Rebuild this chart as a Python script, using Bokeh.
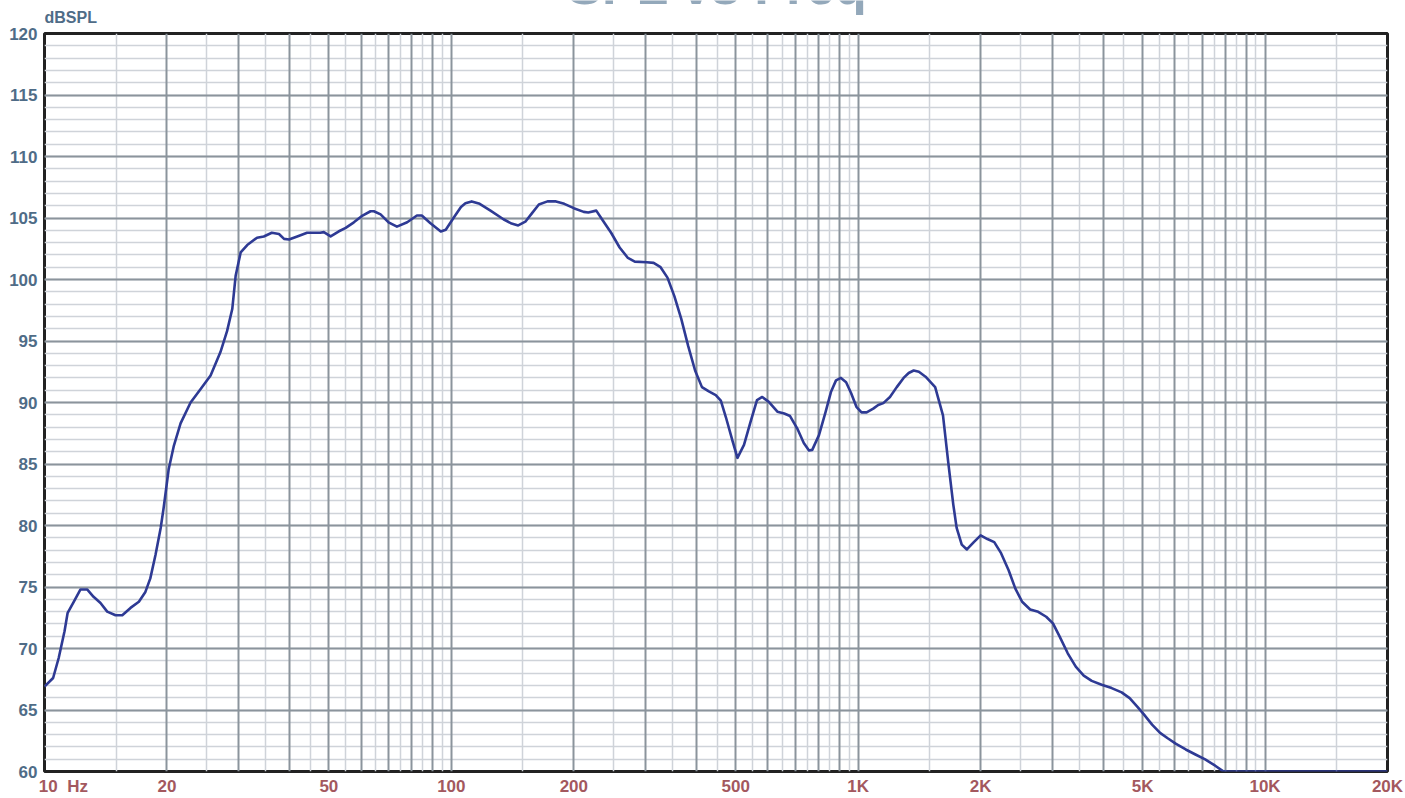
from bokeh.plotting import figure
from bokeh.layouts import column
from bokeh.models import Range1d, FixedTicker, Grid, Label
from bokeh.embed import file_html
from bokeh.resources import INLINE

# ---- data ----
freq = [10.0, 10.5, 10.84, 11.2, 11.4, 11.8, 12.26, 12.73, 13.2, 13.73, 14.26, 14.95,
        15.53, 16.27, 17.06, 17.7, 18.2, 18.74, 19.3, 19.64, 20.2, 20.8, 21.6, 22.86,
        24.2, 25.6, 27.07, 28.1, 28.94, 29.5, 30.35, 31.5, 33.3, 34.6, 36.2, 37.7,
        38.8, 39.9, 41.8, 44.2, 47.6, 48.6, 50.5, 52.8, 55.0, 57.6, 60.5, 63.3, 64.5,
        67.0, 70.1, 73.5, 77.9, 82.3, 84.6, 88.7, 94.2, 96.9, 101.7, 105.6, 108.3,
        112.2, 117.4, 124.8, 134.3, 140.6, 146.0, 152.0, 157.9, 164.1, 172.3, 180.8,
        189.5, 200.0, 211.5, 217.1, 227.1, 235.7, 247.0, 259.2, 271.7, 282.4, 302.2,
        314.2, 326.8, 339.8, 353.3, 367.4, 382.0, 397.3, 413.0, 429.5, 446.6, 459.6,
        473.0, 491.8, 505.0, 524.0, 544.0, 564.0, 581.0, 603.0, 633.0, 658.0, 680.0,
        708.0, 735.0, 757.0, 771.0, 801.0, 832.0, 857.0, 882.0, 907.0, 934.0, 961.0,
        990.0, 1019.0, 1049.0, 1089.0, 1120.0, 1153.0, 1197.0, 1244.0, 1293.0, 1331.0,
        1369.0, 1410.0, 1464.0, 1546.0, 1616.0, 1664.0, 1713.0, 1746.0, 1797.0, 1850.0,
        1924.0, 2000.0, 2078.0, 2160.0, 2245.0, 2343.0, 2434.0, 2529.0, 2647.0, 2770.0,
        2898.0, 3011.0, 3128.0, 3274.0, 3426.0, 3584.0, 3750.0, 3967.0, 4198.0, 4442.0,
        4648.0, 4864.0, 5043.0, 5277.0, 5521.0, 5776.0, 6044.0, 6385.0, 6745.0, 7126.0,
        7528.0, 7880.0, 8000.0, 20000.0]
spl = [66.9, 67.6, 69.25, 71.4, 72.9, 73.8, 74.8, 74.8, 74.2, 73.7, 73.0, 72.7,
       72.7, 73.3, 73.8, 74.6, 75.7, 77.6, 79.8, 81.5, 84.6, 86.5, 88.3, 90.0,
       91.1, 92.2, 94.1, 95.8, 97.6, 100.3, 102.2, 102.8, 103.4, 103.5, 103.8, 103.7,
       103.3, 103.25, 103.5, 103.8, 103.8, 103.85, 103.5, 103.9, 104.2, 104.65, 105.2, 105.55, 105.55,
       105.3, 104.65, 104.3, 104.65, 105.2, 105.2, 104.6, 103.9, 104.05, 105.1, 105.9, 106.2,
       106.35, 106.15, 105.6, 104.9, 104.55, 104.4, 104.7, 105.4, 106.1, 106.35, 106.35,
       106.15, 105.8, 105.5, 105.45, 105.6, 104.8, 103.8, 102.6, 101.75, 101.45, 101.4,
       101.35, 101.0, 100.15, 98.65, 96.8, 94.6, 92.6, 91.25, 90.9, 90.6, 90.15,
       88.8, 86.8, 85.5, 86.55, 88.45, 90.2, 90.45, 90.05, 89.25, 89.1, 88.9,
       87.9, 86.7, 86.1, 86.15, 87.35, 89.25, 90.85, 91.8, 92.0, 91.65, 90.75,
       89.65, 89.2, 89.2, 89.5, 89.8, 89.95, 90.45, 91.25, 92.0, 92.4,
       92.6, 92.5, 92.1, 91.25, 88.95, 85.2, 81.7, 79.8, 78.45, 78.05,
       78.65, 79.2, 78.9, 78.65, 77.75, 76.36, 74.87, 73.8, 73.17, 72.98,
       72.58, 72.04, 70.96, 69.61, 68.53, 67.8, 67.37, 67.05, 66.78, 66.43,
       65.97, 65.24, 64.62, 63.81, 63.14, 62.68, 62.24, 61.79, 61.38, 60.98,
       60.49, 60.03, 60.0, 60.0]

x_label_ticks = [10, 20, 50, 100, 200, 500, 1000, 2000, 5000, 10000, 20000]
NB = "\u00a0"
x_label_text = [NB * 8 + "10" + NB * 2 + "Hz", "20", "50", "100", "200", "500",
                "1K", "2K", "5K", "10K", "20K"]
y_label_ticks = [60, 65, 70, 75, 80, 85, 90, 95, 100, 105, 110, 115, 120]
x_major_grid = [m * d for d in (10, 100, 1000) for m in range(1, 10)] + [10000]
x_minor_grid = [(m + 0.5) * d for d in (10, 100, 1000) for m in range(1, 10)] + [15000]
y_major_grid = y_label_ticks
y_minor_grid = list(range(60, 121))

title_text = "SPL vs Freq"
y_unit_text = "dBSPL"

# ---- styles ----
FONT = "Liberation Sans"
Y_COL = "#4f6c87"
X_COL = "#a3585e"
TITLE_COL = "#93a8ba"
DARK_GRID = "#8b949c"
LIGHT_GRID = "#cfd3d9"
CURVE_COL = "#2e3a94"
STRIP_H = 25

x_rng = Range1d(10, 20000)

# ---- strip above the chart (title + unit text) ----
top = figure(width=1405, height=STRIP_H, x_axis_type="log", x_range=x_rng,
             y_range=Range1d(0, 1), output_backend="svg", toolbar_location=None,
             title=None, x_axis_location=None, y_axis_location=None,
             min_border_left=44, min_border_right=18, min_border_top=0,
             min_border_bottom=0)
top.outline_line_color = None
top.background_fill_color = "white"
top.border_fill_color = "white"
top.grid.visible = False
top.add_layout(Label(x=10, y=0, x_units="data", y_units="screen", x_offset=0,
                     text=y_unit_text, text_font=FONT, text_font_style="bold",
                     text_font_size="16px", text_color=Y_COL,
                     text_align="left", text_baseline="bottom"))
top.add_layout(Label(x=673, y=11, x_units="screen", y_units="screen",
                     text=title_text, text_font=FONT, text_font_style="bold",
                     text_font_size="52px", text_color=TITLE_COL,
                     text_align="center", text_baseline="bottom"))

# ---- main chart ----
p = figure(width=1405, height=798 - STRIP_H, x_axis_type="log",
           x_range=x_rng, y_range=Range1d(60, 120),
           output_backend="svg", toolbar_location=None, title=None,
           min_border_left=44, min_border_right=18, min_border_top=33 - STRIP_H,
           min_border_bottom=0)
p.background_fill_color = "white"
p.border_fill_color = "white"
p.outline_line_color = "#222222"
p.outline_line_width = 3

for ax in (p.xaxis, p.yaxis):
    ax.axis_line_color = None
    ax.major_tick_line_color = None
    ax.minor_tick_line_color = None
    ax.major_tick_out = 0
    ax.minor_tick_out = 0
    ax.major_tick_in = 0
    ax.minor_tick_in = 0
    ax.major_label_text_font = FONT
    ax.major_label_text_font_style = "bold"
    ax.major_label_text_font_size = "17px"

p.xaxis.ticker = FixedTicker(ticks=x_label_ticks)
p.xaxis.major_label_overrides = dict(zip(x_label_ticks, x_label_text))
p.xaxis.major_label_text_color = X_COL
p.xaxis.major_label_standoff = 5

p.yaxis.ticker = FixedTicker(ticks=y_label_ticks)
p.yaxis.major_label_text_color = Y_COL
p.yaxis.major_label_standoff = 7

# grids: light first, dark on top
p.xgrid.ticker = FixedTicker(ticks=[], minor_ticks=x_minor_grid)
p.xgrid.grid_line_color = None
p.xgrid.minor_grid_line_color = LIGHT_GRID
p.xgrid.minor_grid_line_width = 1.5
p.ygrid.ticker = FixedTicker(ticks=[], minor_ticks=y_minor_grid)
p.ygrid.grid_line_color = None
p.ygrid.minor_grid_line_color = LIGHT_GRID
p.ygrid.minor_grid_line_width = 1.5
p.add_layout(Grid(dimension=0, ticker=FixedTicker(ticks=x_major_grid),
                  grid_line_color=DARK_GRID, grid_line_width=2), "center")
p.add_layout(Grid(dimension=1, ticker=FixedTicker(ticks=y_major_grid),
                  grid_line_color=DARK_GRID, grid_line_width=2), "center")

p.line(freq, spl, line_color=CURVE_COL, line_width=2.6, line_join="round")

layout = column(top, p, spacing=0)
open("out.html", "w").write(file_html(layout, INLINE))
